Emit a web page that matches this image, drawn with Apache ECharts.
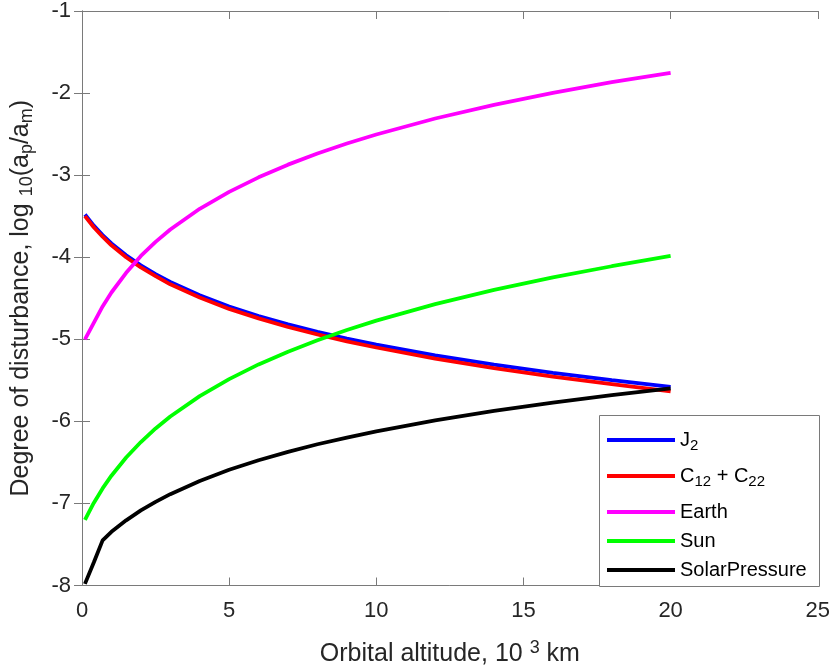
<!DOCTYPE html>
<html>
<head>
<meta charset="utf-8">
<script src="https://cdn.jsdelivr.net/npm/echarts@6/dist/echarts.min.js"></script>
<style>
  html, body { margin: 0; padding: 0; background: #fff; }
  #chart { width: 833px; height: 672px; }
</style>
</head>
<body>
<div id="chart"></div>
<script>
// altitude in 10^3 km
const altitude = [0.1, 0.4, 0.7, 1, 1.5, 2, 2.5, 3, 4, 5, 6, 7, 8, 9, 10, 12, 14, 16, 18, 20];

// log10(ap/am)
const j2 = [-3.48, -3.615, -3.73, -3.832, -3.976, -4.10, -4.207, -4.302, -4.464, -4.60,
  -4.716, -4.819, -4.909, -4.991, -5.066, -5.197, -5.31, -5.41, -5.498, -5.579];
const c1222 = [-3.50, -3.635, -3.75, -3.855, -4.00, -4.125, -4.23, -4.33, -4.49, -4.63,
  -4.745, -4.85, -4.94, -5.025, -5.10, -5.235, -5.35, -5.455, -5.545, -5.635];
const earth = [-5.0, -4.80, -4.60, -4.43, -4.19, -3.984, -3.813, -3.663, -3.41, -3.204,
  -3.027, -2.872, -2.736, -2.615, -2.505, -2.31, -2.143, -1.998, -1.868, -1.755];
const sun = [-7.20, -6.994, -6.817, -6.662, -6.441, -6.252, -6.086, -5.941, -5.693, -5.485,
  -5.306, -5.151, -5.012, -4.887, -4.772, -4.571, -4.398, -4.246, -4.11, -3.985];
const solarPressure = [-7.98, -7.72, -7.45, -7.346, -7.206, -7.085, -6.981, -6.887, -6.726, -6.59,
  -6.474, -6.371, -6.279, -6.197, -6.121, -5.988, -5.873, -5.771, -5.681, -5.599];

const seriesNames = ['J2', 'C12+C22', 'Earth', 'Sun', 'SolarPressure'];
const seriesColors = ['#0000ff', '#ff0000', '#ff00ff', '#00ff00', '#000000'];
const seriesValues = [j2, c1222, earth, sun, solarPressure];

const legendLabels = {
  'J2': 'J{sub|2}',
  'C12+C22': 'C{sub|12} + C{sub|22}',
  'Earth': 'Earth',
  'Sun': 'Sun',
  'SolarPressure': 'SolarPressure'
};

const font = 'Liberation Sans, Arial, Helvetica, sans-serif';
const axisGray = '#7a7a7a';
const textDark = '#262626';

const chart = echarts.init(document.getElementById('chart'));

const boxAxis = {
  axisLine: { show: true, lineStyle: { color: axisGray, width: 1 } },
  axisTick: { show: true, inside: true, length: 8, lineStyle: { color: axisGray } },
  splitLine: { show: false }
};

// two legend blocks share one framed box (items with subscripts are taller)
const legendBase = {
  orient: 'vertical',
  left: 607,
  padding: 0,
  itemWidth: 68, itemHeight: 4,
  icon: 'rect',
  formatter: name => legendLabels[name],
  textStyle: {
    color: '#000', fontSize: 20, fontFamily: font, lineHeight: 20,
    rich: {
      sub: { fontSize: 15, fontFamily: font, color: '#000', lineHeight: 15, padding: [11, 0, 0, 0] }
    }
  }
};

chart.setOption({
  animation: false,
  backgroundColor: '#fff',
  grid: { left: 82, top: 7, width: 738, height: 580, containLabel: false },
  xAxis: [{
    type: 'value', min: 0, max: 25, interval: 5, position: 'bottom',
    ...boxAxis,
    axisLabel: { color: textDark, fontSize: 22, fontFamily: font, margin: 14 },
    name: 'Orbital altitude, 10 {sup|3} km',
    nameLocation: 'middle', nameGap: 54,
    nameTextStyle: {
      color: textDark, fontSize: 25, fontFamily: font,
      rich: {
        sup: { fontSize: 18, fontFamily: font, color: textDark, padding: [0, 0, 12, 0] }
      }
    }
  }, {
    type: 'value', min: 0, max: 25, interval: 5, position: 'top',
    ...boxAxis, axisLabel: { show: false }
  }],
  yAxis: [{
    type: 'value', min: -8, max: -1, interval: 1, position: 'left',
    ...boxAxis,
    axisLabel: { color: textDark, fontSize: 22, fontFamily: font, margin: 11 },
    name: 'Degree of disturbance, log {sub|10}(a{sub|p}/a{sub|m})',
    nameLocation: 'middle', nameGap: 46, nameRotate: 90,
    nameTextStyle: {
      color: textDark, fontSize: 25, fontFamily: font,
      rich: {
        sub: { fontSize: 18, fontFamily: font, color: textDark, padding: [12, 0, 0, 0] }
      }
    }
  }, {
    type: 'value', min: -8, max: -1, interval: 1, position: 'right',
    ...boxAxis, axisLabel: { show: false }
  }],
  graphic: [{
    type: 'rect',
    z: 3,
    shape: { x: 599.5, y: 415.5, width: 220, height: 171 },
    style: { fill: '#fff', stroke: axisGray, lineWidth: 1 }
  }],
  legend: [
    { ...legendBase, top: 427, itemGap: 10, data: ['J2', 'C12+C22'] },
    { ...legendBase, top: 502, itemGap: 9, data: ['Earth', 'Sun', 'SolarPressure'] }
  ],
  series: seriesNames.map((name, i) => ({
    name: name,
    type: 'line',
    showSymbol: false,
    symbol: 'none',
    color: seriesColors[i],
    lineStyle: { color: seriesColors[i], width: 3.8 },
    data: altitude.map((x, k) => [x, seriesValues[i][k]]),
    z: 2
  }))
});
</script>
</body>
</html>
